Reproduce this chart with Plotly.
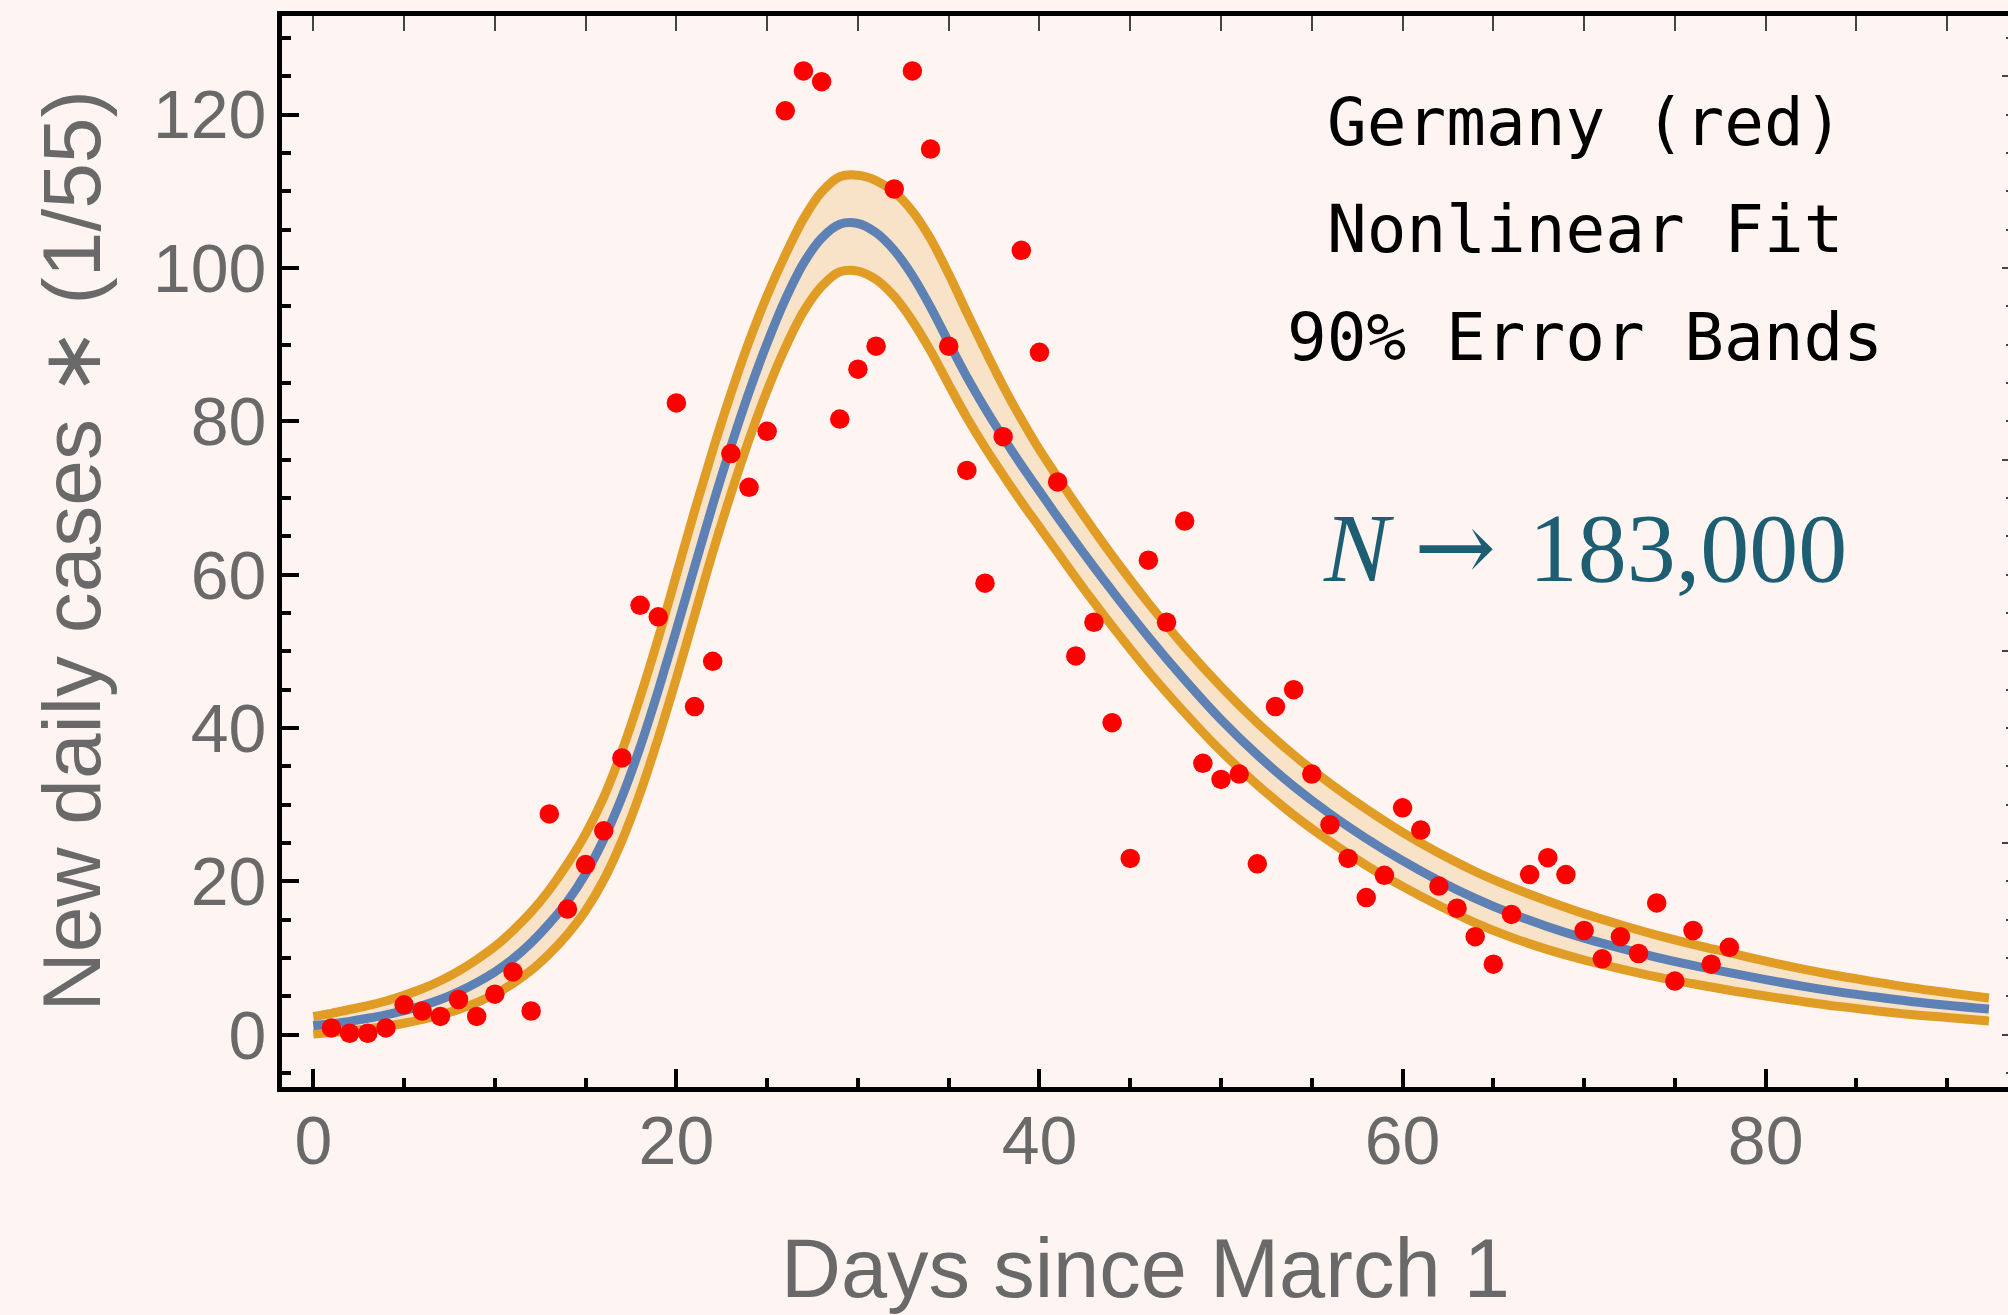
import plotly.graph_objects as go

# ---- observed data: new daily cases (scaled by 1/55), day 1 .. 78 ----
days = list(range(1, 79))
cases = [0.9, 0.2, 0.2, 0.9, 3.9, 3.1, 2.4, 4.6, 2.4, 5.3,
         8.2, 3.1, 28.8, 16.4, 22.2, 26.6, 36.1, 56.0, 54.5, 82.4,
         42.8, 48.7, 75.8, 71.4, 78.7, 120.5, 125.7, 124.3, 80.3, 86.8,
         89.8, 110.3, 125.7, 115.5, 89.8, 73.6, 58.9, 78.0, 102.3, 89.0,
         72.1, 49.4, 53.8, 40.7, 23.0, 61.9, 53.8, 67.0, 35.4, 33.3,
         34.0, 22.3, 42.8, 45.0, 34.0, 27.4, 23.0, 17.9, 20.8, 29.6,
         26.7, 19.4, 16.5, 12.8, 9.2, 15.7, 20.9, 23.1, 20.9, 13.6,
         9.9, 12.8, 10.6, 17.2, 7.0, 13.6, 9.2, 11.4]

# ---- nonlinear fit and its 90% error band, sampled along the day axis ----
fit_x = [0, 1, 2, 3, 4, 5, 6, 7, 8, 9, 10, 11, 12, 13, 14, 15, 16, 17, 18, 19,
         20, 21, 22, 23, 24, 25, 26, 27, 28, 29, 30, 31, 32, 33, 34, 35, 36, 37, 38, 39,
         40, 41, 42, 43, 44, 46, 48, 50, 52, 54, 56, 58, 60, 62, 64, 66, 68, 70, 72, 74,
         76, 78, 80, 82, 84, 86, 88, 90, 92.3]
fit_mid = [1.2, 1.45, 1.75, 2.15, 2.6, 3.15, 3.8, 4.6, 5.6, 6.8,
           8.2, 9.9, 12.0, 14.5, 17.4, 21.0, 25.5, 31.0, 37.5, 44.9,
           52.8, 61.0, 69.1, 76.7, 83.8, 90.2, 95.9, 100.6, 103.9, 105.7,
           105.8, 104.6, 102.3, 99.0, 94.9, 90.3, 85.8, 81.7, 77.9, 74.3,
           70.9, 67.5, 64.2, 61.0, 57.9, 51.9, 46.3, 41.1, 36.5, 32.4,
           28.8, 25.6, 22.7, 20.1, 17.8, 15.8, 14.1, 12.6, 11.3, 10.1,
           9.05, 8.1, 7.2, 6.35, 5.6, 4.95, 4.35, 3.85, 3.35]
fit_hi = [2.4, 2.8, 3.3, 3.8, 4.4, 5.15, 6.0, 7.05, 8.3, 9.8,
          11.5, 13.6, 16.0, 18.9, 22.3, 26.2, 31.0, 37.0, 44.0, 51.7,
          60.0, 68.3, 76.2, 83.6, 90.4, 96.4, 101.7, 106.4, 109.9, 111.9,
          112.1, 111.4, 109.9, 107.4, 103.8, 99.2, 94.2, 89.3, 84.6, 80.3,
          76.3, 72.7, 69.2, 65.8, 62.5, 56.3, 50.6, 45.4, 40.7, 36.5,
          32.8, 29.45, 26.4, 23.7, 21.3, 19.25, 17.45, 15.8, 14.35, 13.0,
          11.8, 10.7, 9.6, 8.6, 7.7, 6.9, 6.15, 5.5, 4.8]
fit_lo = [0.1, 0.3, 0.5, 0.8, 1.1, 1.5, 2.0, 2.6, 3.3, 4.2,
          5.3, 6.7, 8.4, 10.55, 13.1, 16.2, 20.2, 25.3, 31.5, 38.7,
          46.5, 54.7, 62.9, 70.5, 77.6, 84.0, 89.6, 94.3, 97.6, 99.5,
          99.6, 98.5, 96.3, 93.1, 89.2, 84.8, 80.5, 76.6, 73.0, 69.5,
          66.2, 62.9, 59.6, 56.4, 53.3, 47.4, 42.0, 37.0, 32.6, 28.65,
          25.2, 22.1, 19.35, 16.85, 14.6, 12.7, 11.1, 9.75, 8.6, 7.55,
          6.65, 5.8, 5.05, 4.35, 3.7, 3.15, 2.65, 2.25, 1.8]

x_ticks = [0, 20, 40, 60, 80]
y_ticks = [0, 20, 40, 60, 80, 100, 120]

BG = "#FEF5F2"
GREY = "#696969"
BLUE = "#5E81B5"
ORANGE = "#E09C24"
BAND = "#F8E3C8"
X_RANGE = [-1.724, 93.35]
Y_RANGE = [-6.81, 132.86]

fig = go.Figure()

# shaded error band
fig.add_trace(go.Scatter(x=fit_x, y=fit_hi, mode="lines",
                         line=dict(width=0, shape="spline", color="rgba(0,0,0,0)"),
                         hoverinfo="skip"))
fig.add_trace(go.Scatter(x=fit_x, y=fit_lo, mode="lines", fill="tonexty", fillcolor=BAND,
                         line=dict(width=0, shape="spline", color="rgba(0,0,0,0)"),
                         hoverinfo="skip"))
# band edges and the fitted curve
for band in (fit_hi, fit_lo):
    fig.add_trace(go.Scatter(x=fit_x, y=band, mode="lines",
                             line=dict(width=9, shape="spline", color=ORANGE)))
fig.add_trace(go.Scatter(x=fit_x, y=fit_mid, mode="lines",
                         line=dict(width=9, shape="spline", color=BLUE)))
# daily data points
fig.add_trace(go.Scatter(x=days, y=cases, mode="markers",
                         marker=dict(size=19.5, color="#FF0000", line=dict(width=0))))
# carrier for the thin frame ticks on the top and right edges
fig.add_trace(go.Scatter(x=[0], y=[0], xaxis="x2", yaxis="y2", mode="markers",
                         marker=dict(opacity=0), hoverinfo="skip"))

tick_font = dict(family="Liberation Sans, Arial, sans-serif", size=68, color=GREY)

fig.update_layout(
    width=2008, height=1315,
    margin=dict(l=282, r=0, t=16, b=228, pad=0),
    paper_bgcolor=BG, plot_bgcolor=BG,
    showlegend=False,
    xaxis=dict(range=X_RANGE, showgrid=False, zeroline=False,
               showline=True, linewidth=5, linecolor="black", mirror=True,
               ticks="inside", tickmode="array", tickvals=x_ticks,
               ticktext=[str(v) for v in x_ticks],
               ticklen=18, tickwidth=4, tickcolor="black",
               minor=dict(ticks="inside", tickmode="linear", tick0=0, dtick=5,
                          ticklen=9.5, tickwidth=4, tickcolor="black", showgrid=False),
               tickfont=tick_font, ticklabelstandoff=-10),
    yaxis=dict(range=Y_RANGE, showgrid=False, zeroline=False,
               showline=True, linewidth=5, linecolor="black", mirror=False,
               ticks="inside", tickmode="array", tickvals=y_ticks,
               ticktext=[str(v) for v in y_ticks],
               ticklen=17, tickwidth=4, tickcolor="black",
               minor=dict(ticks="inside", tickmode="linear", tick0=0, dtick=5,
                          ticklen=9, tickwidth=4, tickcolor="black", showgrid=False),
               tickfont=tick_font, ticklabelstandoff=-3),
    xaxis2=dict(overlaying="x", side="top", range=X_RANGE, showgrid=False,
                zeroline=False, showline=False, showticklabels=False,
                ticks="inside", tickmode="linear", tick0=0, dtick=5,
                ticklen=15, tickwidth=1.5, tickcolor="#444444"),
    yaxis2=dict(overlaying="y", side="right", range=Y_RANGE, showgrid=False,
                zeroline=False, showline=False, showticklabels=False,
                ticks="inside", tickmode="linear", tick0=0, dtick=25,
                ticklen=6, tickwidth=1.5, tickcolor="#444444",
                minor=dict(ticks="inside", tickmode="linear", tick0=0, dtick=5,
                           ticklen=2, tickwidth=1.5, tickcolor="#444444")),
)

mono = dict(family="DejaVu Sans Mono, monospace", size=66, color="black")
for text, yv in (("Germany (red)", 119.0), ("Nonlinear Fit", 105.0),
                 ("90% Error Bands", 90.9)):
    fig.add_annotation(x=70.05, y=yv, xref="x", yref="y", text=text, showarrow=False,
                       xanchor="center", yanchor="middle", font=mono)

fig.add_annotation(x=70.06, y=63.55, xref="x", yref="y",
                   text="<i>N</i> <span style='font-family:DejaVu Serif'>\u2192</span>\u200a 183,000",
                   showarrow=False, xanchor="center", yanchor="middle",
                   font=dict(family="Liberation Serif, Times New Roman, serif",
                             size=98, color="#1D5E73"))

title_font = dict(family="Liberation Sans, Arial, sans-serif", size=83, color=GREY)
fig.add_annotation(x=0.5, y=0, xref="paper", yref="paper", text="Days since March 1",
                   showarrow=False, xanchor="center", yanchor="middle", yshift=-181,
                   font=title_font)
fig.add_annotation(x=0, y=0.5, xref="paper", yref="paper",
                   text="New daily cases \u2217 (1/55)", textangle=-90,
                   showarrow=False, xanchor="center", yanchor="middle", xshift=-211,
                   font=dict(family="Liberation Sans, Arial, sans-serif", size=82,
                             color=GREY))

fig.write_html("out.html")
